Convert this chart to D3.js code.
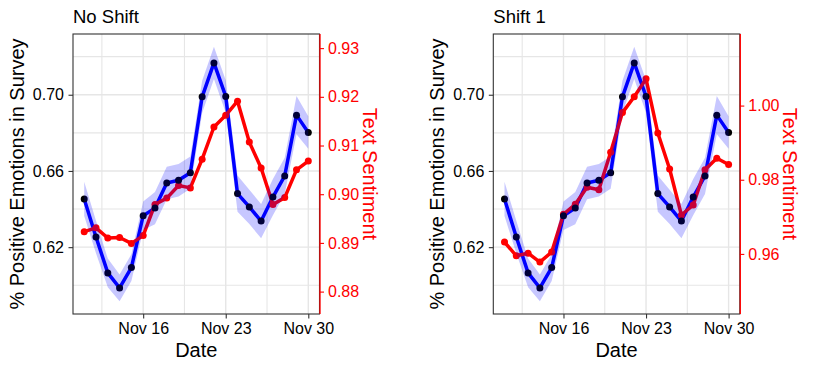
<!DOCTYPE html>
<html>
<head>
<meta charset="utf-8">
<script src="https://cdn.jsdelivr.net/npm/d3@7"></script>
<style>
	body { margin: 0; background: #fff; }
	text { font-family: "Liberation Sans", Arial, sans-serif; }
</style>
</head>
<body>
<svg id="chart" width="813" height="370"></svg>
<script>
// dates of the survey waves
const dates = ["2020-11-11", "2020-11-12", "2020-11-13", "2020-11-14", "2020-11-15", "2020-11-16", "2020-11-17", "2020-11-18", "2020-11-19", "2020-11-20",
	"2020-11-21", "2020-11-22", "2020-11-23", "2020-11-24", "2020-11-25", "2020-11-26", "2020-11-27", "2020-11-28", "2020-11-29", "2020-11-30"];
// share of positive emotions in the survey, with its confidence band
const survey = [0.6453, 0.6253, 0.6065, 0.5986, 0.6093, 0.6365, 0.6405, 0.6537, 0.6551, 0.6591,
	0.6989, 0.7167, 0.6991, 0.6481, 0.6411, 0.6337, 0.6463, 0.6574, 0.6893, 0.6802];
const surveyLow = [0.6363, 0.6168, 0.5990, 0.5916, 0.6023, 0.6290, 0.6320, 0.6452, 0.6466, 0.6506,
	0.6904, 0.7082, 0.6906, 0.6386, 0.6321, 0.6247, 0.6368, 0.6479, 0.6793, 0.6717];
const surveyHigh = [0.6543, 0.6338, 0.6140, 0.6056, 0.6163, 0.6440, 0.6490, 0.6622, 0.6636, 0.6676,
	0.7074, 0.7252, 0.7076, 0.6576, 0.6501, 0.6427, 0.6558, 0.6669, 0.6993, 0.6887];
// text sentiment, unshifted and shifted by one day
const sentimentNoShift = [0.8923, 0.8931, 0.8910, 0.8911, 0.8899, 0.8915, 0.8979, 0.8992, 0.9018, 0.9013,
	0.9072, 0.9138, 0.9162, 0.9191, 0.9107, 0.9054, 0.8979, 0.8993, 0.9050, 0.9068];
const sentimentShift1 = [0.9632, 0.9595, 0.9602, 0.9578, 0.9605, 0.9707, 0.9734, 0.9780, 0.9773, 0.9874,
	0.9981, 1.0024, 1.0072, 0.9926, 0.9829, 0.9705, 0.9732, 0.9827, 0.9858, 0.9841];
// axis breaks
const surveyTicks = [0.62, 0.66, 0.70];
const surveyMinor = [0.60, 0.64, 0.68, 0.72];
const dateTicks = ["2020-11-16", "2020-11-23", "2020-11-30"];
const dateMinor = ["2020-11-12 12:00", "2020-11-19 12:00", "2020-11-26 12:00"];
const noShiftTicks = [0.88, 0.89, 0.90, 0.91, 0.92, 0.93];
const shift1Ticks = [0.96, 0.98, 1.00];
const noShiftDomain = [0.8754, 0.9329];
const shift1Domain = [0.9438, 1.0193];

const parse = d3.utcParse("%Y-%m-%d");
const parseMinor = d3.utcParse("%Y-%m-%d %H:%M");
const days = dates.map(parse);

const panels = [
	{ title: "No Shift", left: 73, sentiment: sentimentNoShift, domain: noShiftDomain, ticks: noShiftTicks },
	{ title: "Shift 1", left: 493.3, sentiment: sentimentShift1, domain: shift1Domain, ticks: shift1Ticks }
];

const Top = 34, Bottom = 314, PanelWidth = 246.5;
const Font = "Liberation Sans, Arial, sans-serif";
const svg = d3.select("#chart");

panels.forEach(p => {
	const right = p.left + PanelWidth;
	const g = svg.append("g");
	// ggplot style 5% expansion of the date range
	const span = days[days.length - 1] - days[0];
	const x = d3.scaleUtc()
		.domain([new Date(+days[0] - span * 0.05), new Date(+days[days.length - 1] + span * 0.05)])
		.range([p.left, right]);
	const lo = d3.min(surveyLow), hi = d3.max(surveyHigh);
	const y = d3.scaleLinear().domain([lo - (hi - lo) * 0.05, hi + (hi - lo) * 0.05]).range([Bottom, Top]);
	const y2 = d3.scaleLinear().domain(p.domain).range([Bottom, Top]);

	// grid lines first
	const grid = g.append("g").attr("stroke", "#e6e6e6");
	grid.selectAll("line.hmin").data(surveyMinor).enter().append("line")
		.attr("x1", p.left).attr("x2", right).attr("y1", d => y(d)).attr("y2", d => y(d)).attr("stroke-width", 1.1);
	grid.selectAll("line.hmaj").data(surveyTicks).enter().append("line")
		.attr("x1", p.left).attr("x2", right).attr("y1", d => y(d)).attr("y2", d => y(d)).attr("stroke-width", 1.4);
	grid.selectAll("line.vmin").data(dateMinor.map(parseMinor)).enter().append("line")
		.attr("y1", Top).attr("y2", Bottom).attr("x1", d => x(d)).attr("x2", d => x(d)).attr("stroke-width", 1.1);
	grid.selectAll("line.vmaj").data(dateTicks.map(parse)).enter().append("line")
		.attr("y1", Top).attr("y2", Bottom).attr("x1", d => x(d)).attr("x2", d => x(d)).attr("stroke-width", 1.4);

	// survey line
	const idx = d3.range(days.length);
	g.append("path").datum(idx)
		.attr("fill", "none").attr("stroke", "#0000ff").attr("stroke-width", 3.5).attr("stroke-linejoin", "round")
		.attr("d", d3.line().x(i => x(days[i])).y(i => y(survey[i])));
	// sentiment line and points
	g.append("path").datum(idx)
		.attr("fill", "none").attr("stroke", "#ff0000").attr("stroke-width", 3.5).attr("stroke-linejoin", "round")
		.attr("d", d3.line().x(i => x(days[i])).y(i => y2(p.sentiment[i])));
	g.selectAll("circle.sent").data(idx).enter().append("circle")
		.attr("cx", i => x(days[i])).attr("cy", i => y2(p.sentiment[i])).attr("r", 3.5).attr("fill", "#ff0000");
	g.selectAll("circle.surv").data(idx).enter().append("circle")
		.attr("cx", i => x(days[i])).attr("cy", i => y(survey[i])).attr("r", 3.5).attr("fill", "#000");
	// confidence ribbon sits on top of everything
	g.append("path").datum(idx)
		.attr("fill", "#0000ff").attr("fill-opacity", 0.22)
		.attr("d", d3.area().x(i => x(days[i])).y0(i => y(surveyLow[i])).y1(i => y(surveyHigh[i])));

	// panel border
	g.append("rect").attr("x", p.left).attr("y", Top).attr("width", PanelWidth).attr("height", Bottom - Top)
		.attr("fill", "none").attr("stroke", "#333").attr("stroke-width", 1.1);

	// left axis
	const yaxis = g.append("g").attr("transform", `translate(${p.left},0)`)
		.call(d3.axisLeft(y).tickValues(surveyTicks).tickFormat(d3.format(".2f")).tickSize(4.5).tickPadding(4.5));
	yaxis.select(".domain").remove();
	yaxis.selectAll("line").attr("stroke", "#333").attr("stroke-width", 1.1);
	yaxis.selectAll("text").attr("font-size", 16).attr("fill", "#000").style("font-family", Font);

	// bottom axis
	const xaxis = g.append("g").attr("transform", `translate(0,${Bottom})`)
		.call(d3.axisBottom(x).tickValues(dateTicks.map(parse)).tickFormat(d3.utcFormat("%b %d")).tickSize(4.5).tickPadding(4));
	xaxis.select(".domain").remove();
	xaxis.selectAll("line").attr("stroke", "#333").attr("stroke-width", 1.1);
	xaxis.selectAll("text").attr("font-size", 16).attr("fill", "#000").style("font-family", Font);

	// right, red axis for the text sentiment
	const raxis = g.append("g").attr("transform", `translate(${right},0)`)
		.call(d3.axisRight(y2).tickValues(p.ticks).tickFormat(d3.format(".2f")).tickSize(4.5).tickPadding(4));
	raxis.select(".domain").attr("stroke", "#ff0000").attr("stroke-width", 1.3).attr("d", `M0.5,${Top}V${Bottom}`);
	raxis.selectAll("line").attr("stroke", "#ff0000").attr("stroke-width", 1.1);
	raxis.selectAll("text").attr("font-size", 16).attr("fill", "#ff0000").style("font-family", Font);

	// titles
	g.append("text").attr("x", p.left).attr("y", 23).attr("font-size", 18.5).attr("fill", "#000").text(p.title);
	g.append("text").attr("x", (p.left + right) / 2).attr("y", 356.5).attr("text-anchor", "middle")
		.attr("font-size", 20).attr("fill", "#000").text("Date");
	g.append("text").attr("transform", `translate(${p.left - 49},${(Top + Bottom) / 2}) rotate(-90)`)
		.attr("text-anchor", "middle").attr("font-size", 20).attr("fill", "#000").text("% Positive Emotions in Survey");
	g.append("text").attr("transform", `translate(${right + 43},${(Top + Bottom) / 2}) rotate(90)`)
		.attr("text-anchor", "middle").attr("font-size", 20).attr("fill", "#ff0000").text("Text Sentiment");
});
</script>
</body>
</html>
